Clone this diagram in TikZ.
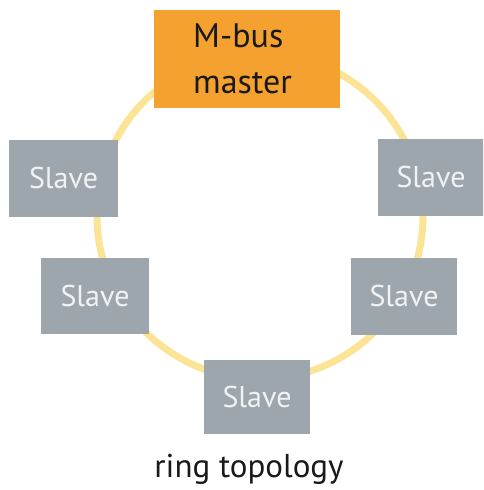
\documentclass[tikz,border=0pt]{standalone}
\usepackage{fontspec}
\setmainfont{PT Sans}
\usepackage{tikz}
\usepackage{xcolor}
\definecolor{mborange}{RGB}{245,161,48}
\definecolor{mbgray}{RGB}{158,166,173}
\definecolor{mbyellow}{RGB}{252,228,150}
\definecolor{mbwhite}{RGB}{240,242,244}
\definecolor{mbtext}{RGB}{25,25,25}
\tikzstyle{ring} = [line width=7pt, color=mbyellow]
\tikzstyle{master} = [rectangle, minimum width=186pt, minimum height=98pt, fill=mborange, inner sep=0pt]
\tikzstyle{mlabel} = [text=mbtext, align=left, inner sep=0pt, font=\fontsize{34}{46}\selectfont]
\tikzstyle{slave} = [rectangle, minimum width=107pt, minimum height=77pt, fill=mbgray, text=mbwhite, inner sep=0pt, font=\fontsize{30}{36}\selectfont]

\begin{document}
\begin{tikzpicture}[x=1pt, y=-1pt]
\useasboundingbox (0,0) rectangle (483,490);
\begin{scope}
\clip (0,0) rectangle (483,490);
% ring behind the stations
\coordinate (ringc) at (260,216);
\draw[ring] (ringc) circle (163);

% master station
\node[master] (master) at (247,59) {};
\node[mlabel, anchor=base west] (mastertext) at (193,93) {M-bus\\master};

% slave stations
\node[slave, minimum width=109pt] (slaveLA) at (63.5,178) {Slave};
\node[slave] (slaveRA) at (431,177) {Slave};
\node[slave, minimum width=108pt, minimum height=76pt] (slaveLB) at (95,296) {Slave};
\node[slave, minimum width=106pt] (slaveRB) at (404,296) {Slave};
\node[slave, minimum width=106pt, minimum height=74pt] (slaveB) at (257,397) {Slave};
\end{scope}

% caption
\node[font=\fontsize{33}{38}\selectfont, text=mbtext, anchor=base] (caption) at (249,477) {ring topology};
\end{tikzpicture}
\end{document}
